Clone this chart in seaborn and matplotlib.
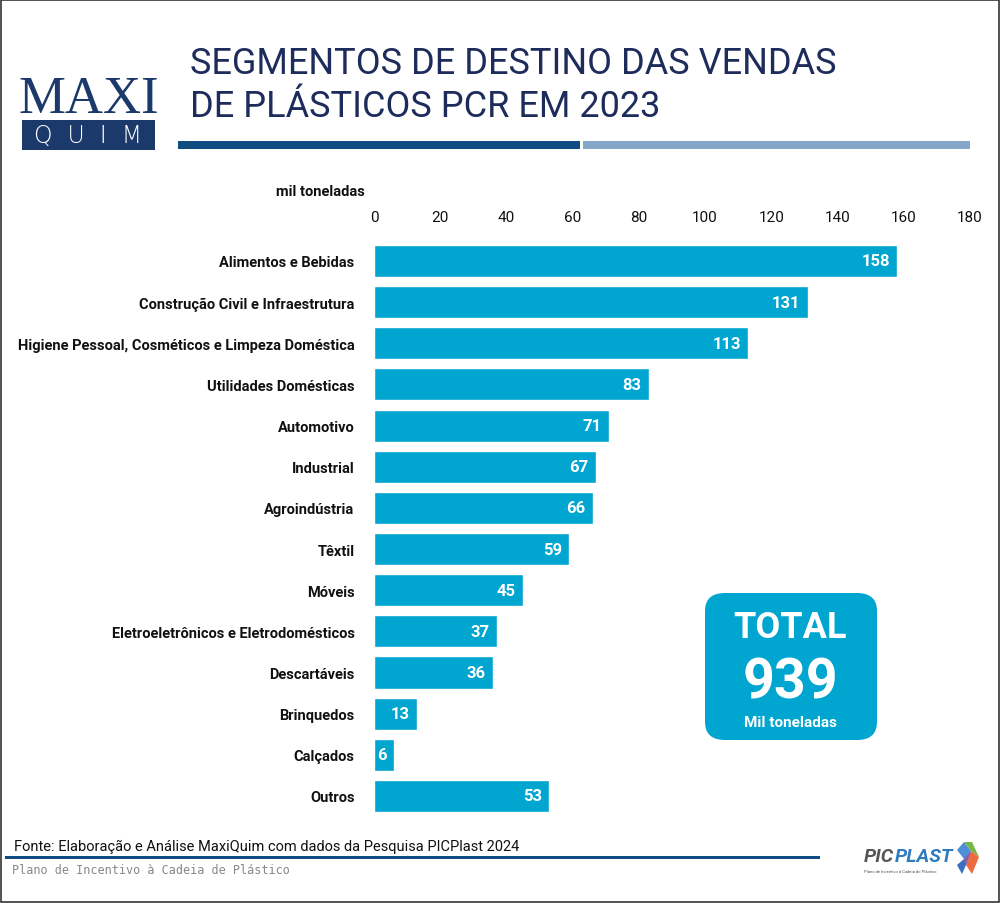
import matplotlib
matplotlib.use("Agg")
import matplotlib.pyplot as plt
import seaborn as sns
import pandas as pd
from matplotlib.patches import FancyBboxPatch, Rectangle, Polygon

categories = ["Alimentos e Bebidas", "Construção Civil e Infraestrutura",
              "Higiene Pessoal, Cosméticos e Limpeza Doméstica", "Utilidades Domésticas",
              "Automotivo", "Industrial", "Agroindústria", "Têxtil", "Móveis",
              "Eletroeletrônicos e Eletrodomésticos", "Descartáveis", "Brinquedos",
              "Calçados", "Outros"]
values = [158, 131, 113, 83, 71, 67, 66, 59, 45, 37, 36, 13, 6, 53]
xticks = [0, 20, 40, 60, 80, 100, 120, 140, 160, 180]
total_value = 939

df = pd.DataFrame({"segmento": categories, "valor": values})

sns.set_theme(style="white")
plt.rcParams["font.family"] = ["Roboto", "DejaVu Sans"]

BAR = "#00A5D0"
NAVY = "#1B3A6B"
TNAVY = "#1E2C5C"

fig = plt.figure(figsize=(10, 9.04), dpi=100)
ax = fig.add_axes([0.374, 0.0956, 0.596, 0.6374])

sns.barplot(data=df, x="valor", y="segmento", color=BAR, width=0.78,
            saturation=1, ax=ax, order=categories)
ax.set_xlim(0, 180)
ax.set_ylim(13.5, -0.5)
ax.set_xticks(xticks)
ax.xaxis.tick_top()
ax.tick_params(axis="x", length=0, pad=12, labelsize=11, labelcolor="#111111")
ax.tick_params(axis="y", length=0, pad=14, labelsize=10.5, labelcolor="#111111")
for lab in ax.get_yticklabels():
    lab.set_fontweight("bold")
ax.set_xlabel("")
ax.set_ylabel("")
for s in ax.spines.values():
    s.set_visible(False)

for i, v in enumerate(values):
    ax.text(v - 2.2, i, str(v), ha="right", va="center", color="white",
            fontsize=12, fontweight="bold")

# unit label
fig.text(0.365, 0.788, "mil toneladas", ha="right", va="center",
         fontsize=10.5, fontweight="bold", color="#111111")

# title
fig.text(0.19, 0.929, "SEGMENTOS DE DESTINO DAS VENDAS", ha="left", va="center",
         fontsize=26, color=TNAVY, fontweight="normal")
fig.text(0.19, 0.882, "DE PLÁSTICOS PCR EM 2023", ha="left", va="center",
         fontsize=26, color=TNAVY, fontweight="normal")

# header lines
fig.add_artist(Rectangle((0.178, 1 - 150 / 904), 0.402, 8 / 904,
                         transform=fig.transFigure, color="#0F4C81", lw=0))
fig.add_artist(Rectangle((0.583, 1 - 150 / 904), 0.387, 8 / 904,
                         transform=fig.transFigure, color="#86A8C8", lw=0))

# MAXIQUIM logo
fig.text(0.0885, 1 - 100 / 904, "MAXI", ha="center", va="center", fontsize=38,
         family="Liberation Serif", color=NAVY)
fig.add_artist(Rectangle((0.022, 1 - 151 / 904), 0.133, 30 / 904,
                         transform=fig.transFigure, color=NAVY, lw=0))
fig.text(0.0885, 1 - 136 / 904, "Q  U  I  M", ha="center", va="center",
         fontsize=17, family="DejaVu Sans", fontweight="light", color="white")

# total box
fig.add_artist(FancyBboxPatch((0.705 + 0.02, 1 - 741 / 904 + 0.02), 0.172 - 0.04,
                              147 / 904 - 0.04, boxstyle="round,pad=0.02",
                              transform=fig.transFigure, color=BAR, lw=0))
fig.text(0.790, 1 - 628 / 904, "TOTAL", ha="center", va="center", fontsize=26,
         fontweight="bold", color="white")
fig.text(0.790, 1 - 684 / 904, str(total_value), ha="center", va="center",
         fontsize=40, fontweight="bold", color="white")
fig.text(0.790, 1 - 723 / 904, "Mil toneladas", ha="center", va="center",
         fontsize=11, fontweight="bold", color="white")

# footer
fig.text(0.014, 1 - 847 / 904, "Fonte: Elaboração e Análise MaxiQuim com dados da Pesquisa PICPlast 2024",
         ha="left", va="center", fontsize=10.5, color="#111111")
fig.add_artist(Rectangle((0.005, 1 - 860 / 904), 0.815, 3 / 904,
                         transform=fig.transFigure, color="#0F4C81", lw=0))
fig.text(0.012, 1 - 871 / 904, "Plano de Incentivo à Cadeia de Plástico",
         ha="left", va="center", fontsize=8.5, family="DejaVu Sans Mono", color="#888888")

# PICPLAST logo
fig.text(0.864, 1 - 857 / 904, "PIC", ha="left", va="center", fontsize=14,
         fontweight="bold", style="italic", color="#555555")
fig.text(0.895, 1 - 857 / 904, "PLAST", ha="left", va="center", fontsize=14,
         fontweight="bold", style="italic", color="#2E7BBF")
fig.text(0.864, 1 - 872 / 904, "Plano de Incentivo à Cadeia do Plástico", ha="left",
         va="center", fontsize=3, color="#555555")
def fp(pts, c):
    fig.add_artist(Polygon([(x / 1000, 1 - y / 904) for x, y in pts], closed=True,
                           transform=fig.transFigure, color=c, lw=0))
fp([(957, 851), (964, 843), (971, 852), (964, 860)], "#4F8FD8")
fp([(964, 843), (972, 843), (979, 858), (971, 852)], "#74B84A")
fp([(971, 852), (979, 858), (972, 875), (966, 866)], "#EE6A40")
fp([(957, 866), (964, 860), (971, 852), (966, 866), (962, 875)], "#3B6FC0")
fp([(964, 860), (971, 852), (966, 866)], "#8E5CA8")

# border
fig.add_artist(Rectangle((0.001, 0.001), 0.998, 0.998, transform=fig.transFigure,
                         fill=False, edgecolor="#333333", lw=1.2))

fig.savefig("out.png", dpi=100)
